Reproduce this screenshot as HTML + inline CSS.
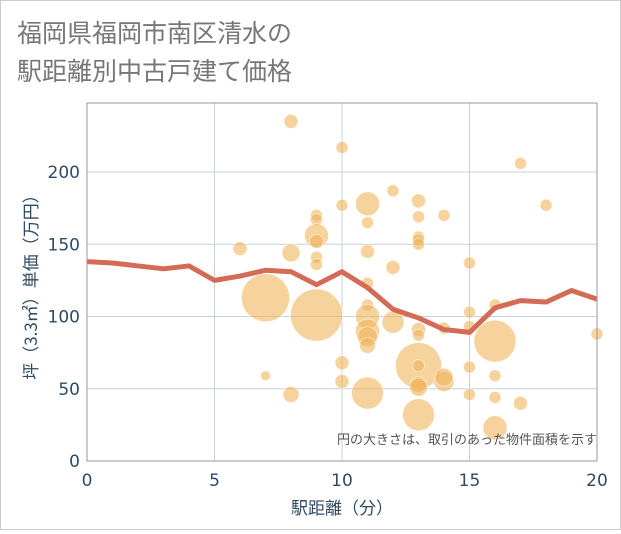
<!DOCTYPE html>
<html><head><meta charset="utf-8"><style>
body{margin:0;background:#fff;}
#wrap{position:relative;width:619px;height:528px;border:1px solid #ccc;background:#fff;font-family:"Liberation Sans","Noto Sans CJK JP",sans-serif;}
svg text{font-family:"DejaVu Sans","Noto Sans CJK JP",sans-serif;}
</style></head><body>
<div id="wrap">
<svg id="chart" width="619" height="528">
<text x="16" y="41" font-size="25" fill="#777" style="font-family:'Noto Sans CJK JP',sans-serif">福岡県福岡市南区清水の</text>
<text x="16" y="79" font-size="25" fill="#777" style="font-family:'Noto Sans CJK JP',sans-serif">駅距離別中古戸建て価格</text>
<g id="grid"></g>
<g id="bubbles"></g>
<g id="line"></g>
<g id="axes"></g>
<text x="596" y="443" font-size="13" fill="#555" text-anchor="end" style="font-family:'Noto Sans CJK JP',sans-serif">円の大きさは、取引のあった物件面積を示す</text>
<text x="341" y="513" font-size="17" fill="#2e4a66" text-anchor="middle" style="font-family:'Noto Sans CJK JP',sans-serif">駅距離（分）</text>
<text transform="translate(36,282) rotate(-90)" font-size="17" fill="#2e4a66" text-anchor="middle" style="font-family:'Noto Sans CJK JP',sans-serif">坪（3.3㎡）単価（万円）</text>
</svg>
</div>
<script>
const xTicks=[0,5,10,15,20];
const yTicks=[0,50,100,150,200];
const lineX=[0,1,2,3,4,5,6,7,8,9,10,11,12,13,14,15,16,17,18,19,20];
const lineY=[138,137,135,133,135,125,128,132,131,122,131,120,105,99,91,89,106,111,110,118,112];
const bubX=[8,10,11,12,13,13,14,17,18,9,9,9,9,9,9,6,8,10,11,11,13,13,13,12,15,11,7,9,11,11,11,11,11,12,13,13,13,13,13,13,14,14,15,15,16,16,16,16,17,16,13,11,10,10,7,8,15,15,20,14];
const bubY=[235,217,178,187,180,169,170,206,177,170,167,156,152,141,136,147,144,177,165,145,155,153,150,134,137,123,113,101,108,100,90,86,80,96,91,87,66,66,53,51,55,58,103,93,108,83,59,44,40,23,32,47,68,55,59,46,65,46,88,92];
const bubR=[7,6,12,6,7,6,6,6,6,6,6,12,7,6,6,7,9,6,6,7,6,6,6,7,6,6,24,26,6,12,12,10,8,11,7,6,23,6,8,9,10,9,6,6,6,21,6,6,7,12,16,16,7,7,5,8,6,6,6,6];
const L=86,R=596,T=102,B=460;
const sx=v=>L+(v-0)/(20-0)*(R-L);
const sy=v=>B-(v/200)*(B-171);
const NS="http://www.w3.org/2000/svg";
function mk(tag,attrs,parent){const e=document.createElementNS(NS,tag);for(const k in attrs)e.setAttribute(k,attrs[k]);parent.appendChild(e);return e;}
const grid=document.getElementById('grid'),axes=document.getElementById('axes'),bub=document.getElementById('bubbles'),ln=document.getElementById('line');
xTicks.forEach(t=>{
 const g=mk('line',{x1:sx(t),x2:sx(t),y1:T,y2:B,stroke:'#c5d0de','stroke-width':1},grid);
 
 
 const tx=mk('text',{x:sx(t),y:B+25,'font-size':17,fill:'#2e4a66','text-anchor':'middle'},axes);
 tx.textContent=t;
 
 
});
yTicks.forEach(t=>{
 const g=mk('line',{x1:L,x2:R,y1:sy(t),y2:sy(t),stroke:'#c5d0de','stroke-width':1},grid);
 
 
 const tx=mk('text',{x:L-7,y:sy(t)+6,'font-size':17,fill:'#2e4a66','text-anchor':'end'},axes);
 tx.textContent=t;
 
 
});
const fr=mk('rect',{x:L,y:T,width:R-L,height:B-T,fill:'none',stroke:'#999','stroke-width':1},axes);


bubX.forEach((x,i)=>{
 const c=mk('circle',{cx:sx(x),cy:sy(bubY[i]),r:bubR[i],fill:'rgba(240,180,90,0.6)',stroke:'rgba(255,255,255,0.5)','stroke-width':1},bub);
 
 
});
const p=mk('polyline',{points:lineX.map((x,i)=>sx(x)+','+sy(lineY[i])).join(' '),fill:'none',stroke:'#d46b57','stroke-width':5,'stroke-linejoin':'round'},ln);


</script>
</body></html>
